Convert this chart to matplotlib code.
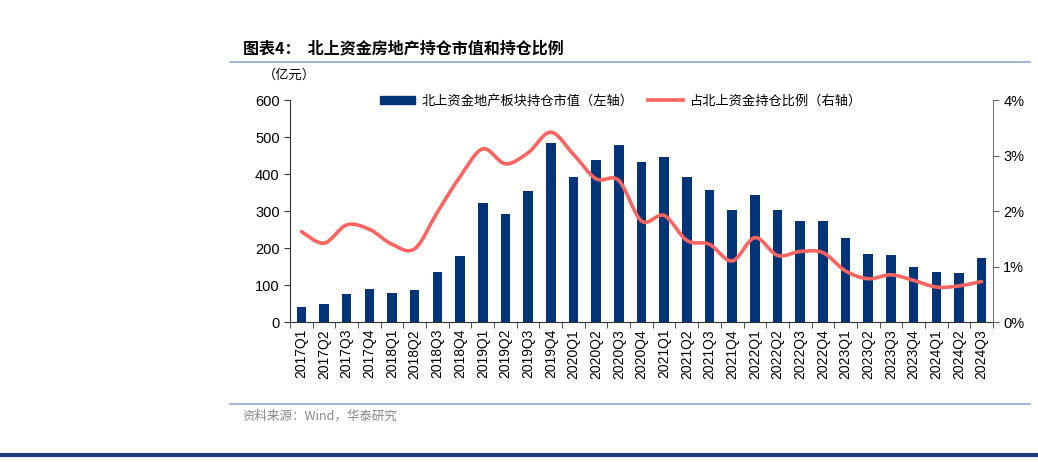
import matplotlib
matplotlib.use("Agg")
import matplotlib.pyplot as plt
from matplotlib.path import Path
from matplotlib.patches import PathPatch, Patch
from matplotlib.lines import Line2D
import numpy as np

plt.rcParams['font.family'] = ['Liberation Sans', 'Noto Sans CJK SC', 'DejaVu Sans']

quarters = ['2017Q1', '2017Q2', '2017Q3', '2017Q4', '2018Q1', '2018Q2', '2018Q3', '2018Q4',
            '2019Q1', '2019Q2', '2019Q3', '2019Q4', '2020Q1', '2020Q2', '2020Q3', '2020Q4',
            '2021Q1', '2021Q2', '2021Q3', '2021Q4', '2022Q1', '2022Q2', '2022Q3', '2022Q4',
            '2023Q1', '2023Q2', '2023Q3', '2023Q4', '2024Q1', '2024Q2', '2024Q3']
market_value = [40, 48, 75, 90, 78, 86, 136, 178,
                322, 291, 353, 485, 392, 438, 479, 432,
                445, 393, 356, 304, 342, 304, 272, 272,
                227, 183, 182, 148, 136, 132, 172]
share_pct = [1.63, 1.42, 1.75, 1.67, 1.40, 1.32, 1.98, 2.62,
             3.12, 2.85, 3.05, 3.42, 3.02, 2.58, 2.55, 1.82,
             1.92, 1.47, 1.40, 1.10, 1.52, 1.20, 1.27, 1.25,
             0.92, 0.78, 0.85, 0.75, 0.63, 0.65, 0.73]

bar_color = '#003478'
line_color = '#FF6461'
cjk = ['Noto Sans CJK SC', 'DejaVu Sans']

fig = plt.figure(figsize=(10.38, 4.62), dpi=100)
ax = fig.add_axes([0.2794, 0.303, 0.6772, 0.4805])
ax2 = ax.twinx()

x = np.arange(len(quarters))
ax.bar(x, market_value, width=0.42, color=bar_color, zorder=2)
ax.set_xlim(-0.5, len(quarters) - 0.5)
ax.set_ylim(0, 600)
ax.set_yticks(range(0, 601, 100))
ax.set_xticks(x)
ax.set_xticklabels(quarters, rotation=90, fontsize=10)
ax.set_xticks(np.arange(-0.5, len(quarters), 1), minor=True)
ax.tick_params(axis='x', which='major', length=0, pad=5)
ax.tick_params(axis='x', which='minor', length=4, direction='out', color='#333333')
ax.tick_params(axis='y', labelsize=10.5, length=4, direction='out', color='#333333')

# smoothed line (Excel-like), bezier through the data points
pts = np.column_stack([x, share_pct])
verts = [tuple(pts[0])]
codes = [Path.MOVETO]
t = 1.0 / 6
for i in range(len(pts) - 1):
    p0 = pts[i - 1] if i > 0 else pts[i]
    p1 = pts[i]
    p2 = pts[i + 1]
    p3 = pts[i + 2] if i + 2 < len(pts) else pts[i + 1]
    c1 = p1 + (p2 - p0) * t
    c2 = p2 - (p3 - p1) * t
    verts += [tuple(c1), tuple(c2), tuple(p2)]
    codes += [Path.CURVE4] * 3
ax2.add_patch(PathPatch(Path(verts, codes), facecolor='none', edgecolor=line_color,
                        lw=2.6, capstyle='round', joinstyle='round', zorder=3))
ax2.set_ylim(0, 4)
ax2.set_yticks([0, 1, 2, 3, 4])
ax2.set_yticklabels(['0%', '1%', '2%', '3%', '4%'])
ax2.tick_params(axis='y', labelsize=10.5, length=4, direction='out', color='#666666')

for a in (ax, ax2):
    a.spines['top'].set_visible(False)
ax.spines['right'].set_visible(False)
ax2.spines['left'].set_visible(False)
ax2.spines['bottom'].set_visible(False)
ax.spines['left'].set_color('#333333')
ax.spines['bottom'].set_color('#333333')
ax2.spines['right'].set_color('#777777')

handles = [Patch(color=bar_color), Line2D([], [], color=line_color, lw=2.6)]
labels = ['北上资金地产板块持仓市值（左轴）', '占北上资金持仓比例（右轴）']
leg = ax.legend(handles, labels, loc='center left', bbox_to_anchor=(0.128, 0.995), ncol=2,
                frameon=False, prop={'family': cjk, 'size': 9.5}, handlelength=2.65,
                handleheight=0.55, columnspacing=1.1, handletextpad=0.5,
                borderpad=0, borderaxespad=0)

fig.text(0.234, 0.895, '图表4：  北上资金房地产持仓市值和持仓比例', family=cjk, fontsize=11.5,
         fontweight='bold', va='center', ha='left')
fig.add_artist(Line2D([0.222, 0.992], [0.866, 0.866], color='#8EA9CF', lw=1.2))
fig.text(0.253, 0.838, '（亿元）', family=cjk, fontsize=9.5, va='center', ha='left')
fig.add_artist(Line2D([0.222, 0.992], [0.126, 0.126], color='#8EA9CF', lw=1.2))
fig.text(0.234, 0.099, '资料来源：Wind，华泰研究', family=cjk, fontsize=9, color='#888888',
         va='center', ha='left')
fig.add_artist(Line2D([0.0, 1.0], [0.015, 0.015], color='#1F3B7A', lw=3))

fig.savefig('out.png', dpi=100)
